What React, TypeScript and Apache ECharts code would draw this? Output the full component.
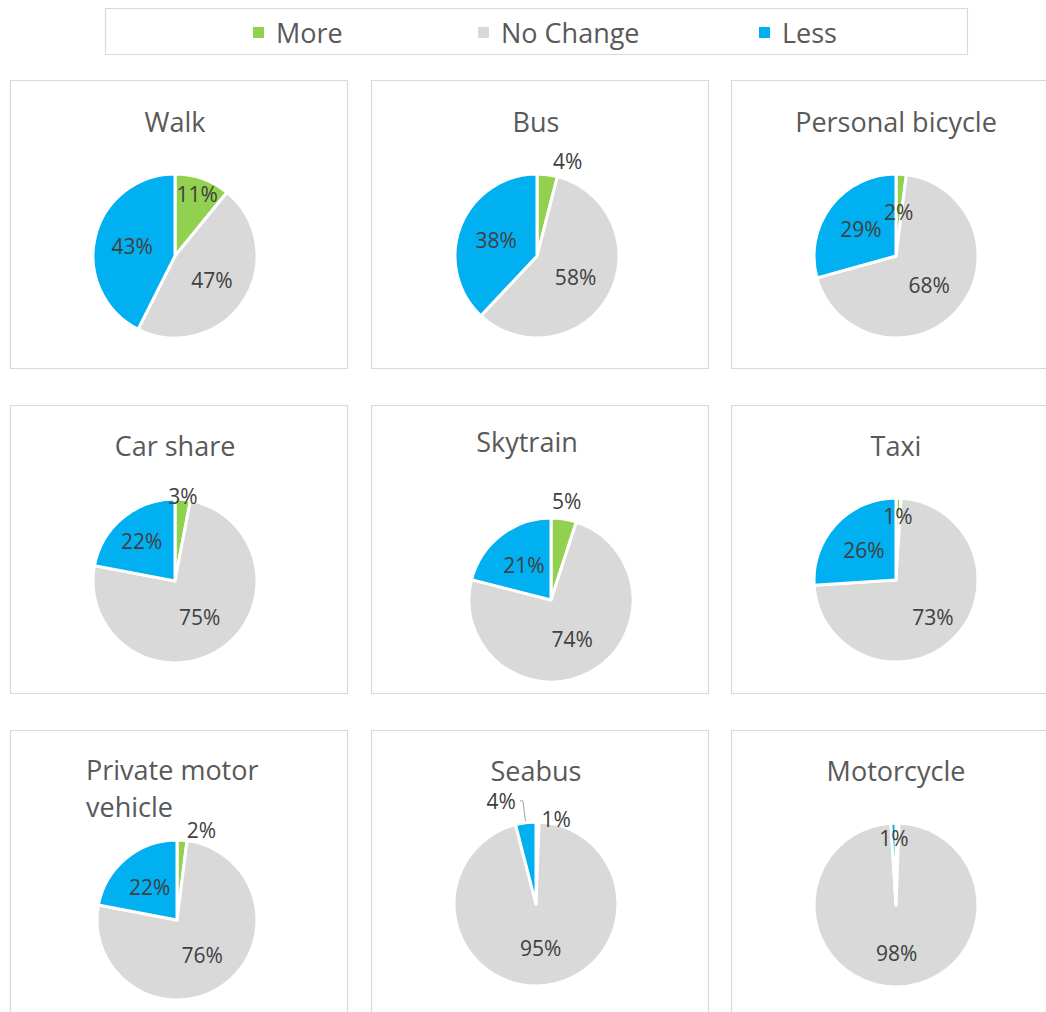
import React, { useEffect, useRef } from 'react';
import * as echarts from 'echarts';

// ---------- data ----------
const chartTitles = ['Walk', 'Bus', 'Personal bicycle', 'Car share', 'Skytrain', 'Taxi', 'Private motor\nvehicle', 'Seabus', 'Motorcycle'];
const categories = ['More', 'No Change', 'Less'];
const moreValues = [11, 4, 2, 3, 5, 1, 2, 0.6, 0.6];
const noChangeValues = [47, 58, 68, 75, 74, 73, 76, 95, 98];
const lessValues = [43, 38, 29, 22, 21, 26, 22, 4, 1];

// ---------- styles / layout ----------
const COLORS = ['#92D050', '#D9D9D9', '#00B0F0'];
const FONT = "'Open Sans', 'Noto Sans', sans-serif";
const LABEL_COLOR = '#404040';
const TITLE_COLOR = '#595959';
const BORDER = '#D9D9D9';

// number = inside label at that fraction of the radius; {out} = outside label; {line} = outside with leader line
type Spec = number | { out: number } | { line: number } | null;
interface Panel { x: number; y: number; cx: number; cy: number; r: number; tx: number; ty: number; align?: string; labels: Spec[] }

const panels: Panel[] = [
  { x: 10, y: 80, cx: 175, cy: 256, r: 82, tx: 175, ty: 121, labels: [0.77, 0.5, 0.5] },
  { x: 371, y: 80, cx: 537, cy: 256, r: 82, tx: 536, ty: 121, labels: [{ out: 14 }, 0.5, 0.5] },
  { x: 731, y: 80, cx: 896, cy: 256, r: 82, tx: 896, ty: 121, labels: [0.5, 0.5, 0.5] },
  { x: 10, y: 405, cx: 175, cy: 581, r: 82, tx: 175, ty: 445, labels: [1.0, 0.5, 0.6] },
  { x: 371, y: 405, cx: 551, cy: 600, r: 82, tx: 527, ty: 441, labels: [1.18, 0.5, 0.5] },
  { x: 731, y: 405, cx: 896, cy: 580, r: 82, tx: 896, ty: 445, labels: [0.74, 0.6, 0.5] },
  { x: 10, y: 730, cx: 177, cy: 920, r: 80, tx: 86, ty: 788, align: 'left', labels: [{ out: 10 }, 0.5, 0.5] },
  { x: 371, y: 730, cx: 536, cy: 904, r: 82, tx: 536, ty: 770, labels: [{ out: 3 }, 0.5, { line: 22 }] },
  { x: 731, y: 730, cx: 896, cy: 905, r: 82, tx: 896, ty: 770, labels: [null, 0.55, 0.78] },
];

const legendLefts = [246, 471, 752];

const labelText = {
  color: LABEL_COLOR, fontSize: 21, fontFamily: FONT,
  formatter: (p: any) => `${Math.round(p.value)}%`,
};

function buildOption() {
  const series: any[] = [];
  const graphic: any[] = [];

  graphic.push({
    type: 'rect', shape: { x: 105.5, y: 8.5, width: 862, height: 46 },
    style: { fill: 'none', stroke: BORDER, lineWidth: 1.2 }, silent: true,
  });

  panels.forEach((p, i) => {
    const values = [moreValues[i], noChangeValues[i], lessValues[i]];

    graphic.push({
      type: 'rect', shape: { x: p.x + 0.5, y: p.y + 0.5, width: 337, height: 288 },
      style: { fill: 'none', stroke: BORDER, lineWidth: 1.2 }, silent: true,
    });
    graphic.push({
      type: 'text', x: p.tx, y: p.ty, silent: true,
      style: {
        text: chartTitles[i], fill: TITLE_COLOR, font: `27px ${FONT}`,
        align: p.align || 'center', verticalAlign: 'middle', lineHeight: 37,
      },
    });

    series.push({
      type: 'pie', center: [p.cx, p.cy], radius: p.r, startAngle: 90, clockwise: true,
      silent: true, avoidLabelOverlap: false, legendHoverLink: false,
      emphasis: { disabled: true },
      itemStyle: { borderColor: '#ffffff', borderWidth: 3 },
      label: { show: false }, labelLine: { show: false },
      data: values.map((v, k) => {
        const spec: any = p.labels[k];
        const item: any = { name: categories[k], value: v, itemStyle: { color: COLORS[k] } };
        if (spec && typeof spec === 'object') {
          item.label = { show: true, position: 'outside', ...labelText, distanceToLabelLine: 4 };
          item.labelLine = spec.line !== undefined
            ? { show: true, length: spec.line, length2: 3, lineStyle: { color: '#A6A6A6', width: 1 } }
            : { show: false, length: spec.out, length2: 0 };
        }
        return item;
      }),
    });

    const dists = Array.from(new Set(p.labels.filter((s) => typeof s === 'number'))) as number[];
    dists.forEach((d) => {
      series.push({
        type: 'pie', center: [p.cx, p.cy], radius: 2 * d * p.r, startAngle: 90, clockwise: true,
        silent: true, avoidLabelOverlap: false, legendHoverLink: false,
        emphasis: { disabled: true },
        itemStyle: { color: 'rgba(0,0,0,0)', borderWidth: 0 },
        labelLine: { show: false },
        data: values.map((v, k) => ({
          name: categories[k], value: v,
          itemStyle: { color: 'rgba(0,0,0,0)' },
          label: { show: p.labels[k] === d, position: 'inside', ...labelText },
        })),
      });
    });
  });

  return {
    animation: false,
    backgroundColor: '#ffffff',
    color: COLORS,
    legend: categories.map((c, k) => ({
      data: [c], left: legendLefts[k], top: 14, icon: 'rect', itemWidth: 13, itemHeight: 13,
      selectedMode: false,
      textStyle: { fontSize: 27, color: TITLE_COLOR, fontFamily: FONT, padding: [0, 0, 0, 6] },
    })),
    graphic,
    series,
  };
}

export default function App() {
  const ref = useRef<HTMLDivElement>(null);
  useEffect(() => {
    if (!ref.current) return;
    const chart = echarts.init(ref.current, undefined, { renderer: 'svg' });
    chart.setOption(buildOption());
    return () => chart.dispose();
  }, []);
  return <div ref={ref} style={{ position: 'fixed', left: 0, top: 0, width: 1046, height: 1012 }} />;
}
